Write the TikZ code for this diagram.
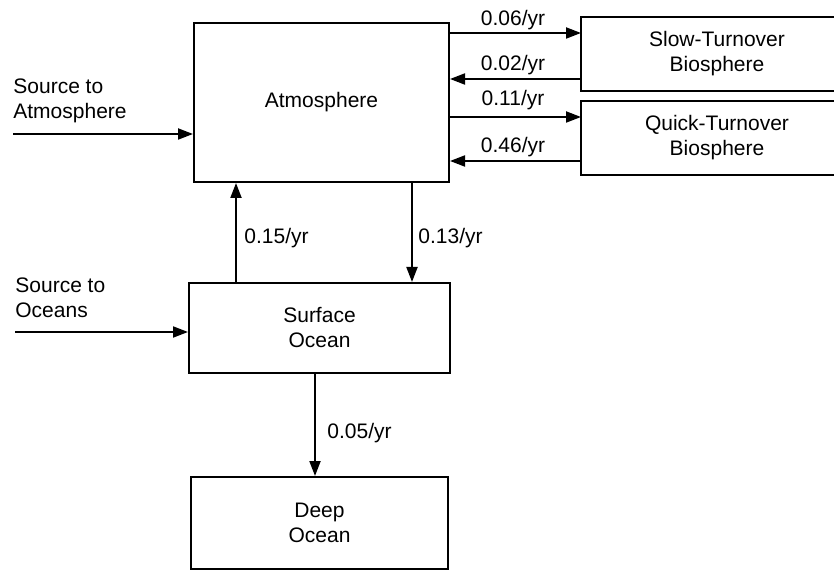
\documentclass[tikz,border=0pt]{standalone}
\usepackage{fontspec}
\setmainfont{Liberation Sans}
\usetikzlibrary{arrows.meta}
\tikzset{
  res/.style={draw,line width=1pt,inner sep=0pt},
  bio/.style={line width=1pt,inner sep=0pt,align=center,minimum width=135pt,minimum height=36pt},
  fl/.style={line width=1pt,-{Triangle[length=7.5pt,width=5.5pt]}},
  rt/.style={font=\fontsize{10.5}{12.5}\selectfont},
  lb/.style={rt,inner sep=0pt}
}
\begin{document}
\begin{tikzpicture}[x=0.5pt,y=-0.5pt]
\useasboundingbox (0,0) rectangle (834,571);
% reservoirs
\node[res,rt,minimum width=127.5pt,minimum height=79.5pt] (atm) at (321.5,102.5) {Atmosphere};
\node[bio,rt] (slow) at (717,54) {Slow-Turnover\\Biosphere};
\node[bio,rt] (quick) at (717,138) {Quick-Turnover\\Biosphere};
\node[res,rt,align=center,minimum width=130.5pt,minimum height=45pt] (surf) at (319.5,328) {Surface\\Ocean};
\node[res,rt,align=center,minimum width=128.5pt,minimum height=46pt] (deep) at (319.5,523) {Deep\\Ocean};
% biosphere boxes run off the right edge
\draw[line width=1pt] ([xshift=20pt]slow.north east) -- (slow.north west) -- (slow.south west) -- ([xshift=20pt]slow.south east);
\draw[line width=1pt] ([xshift=20pt]quick.north east) -- (quick.north west) -- (quick.south west) -- ([xshift=20pt]quick.south east);
% sources
\coordinate (sa) at (13,134); \node[lb,align=left,anchor=west] (sal) at (13,101) {Source to\\Atmosphere};
\coordinate (so) at (15,332); \node[lb,align=left,anchor=west] (sol) at (15,298) {Source to\\Oceans};
\draw[fl] (sa) -- (sa -| atm.west);
\draw[fl] (so) -- (so -| surf.west);
% atmosphere <-> biosphere
\draw[fl] (atm.east |- 0,33) -- (slow.west |- 0,33); \node[lb] (k1) at (513,20) {0.06/yr};
\draw[fl] (slow.west |- 0,79) -- (atm.east |- 0,79); \node[lb] (k2) at (513,65) {0.02/yr};
\draw[fl] (atm.east |- 0,117) -- (quick.west |- 0,117); \node[lb] (k3) at (513,100) {0.11/yr};
\draw[fl] (quick.west |- 0,161) -- (atm.east |- 0,161); \node[lb] (k4) at (513,147) {0.46/yr};
% atmosphere <-> ocean
\draw[fl] (surf.north -| 236,0) -- (atm.south -| 236,0); \node[lb,anchor=west] (k5) at (244,238) {0.15/yr};
\draw[fl] (atm.south -| 412,0) -- (surf.north -| 412,0); \node[lb,anchor=west] (k6) at (418,238) {0.13/yr};
\draw[fl] (surf.south -| 315,0) -- (deep.north -| 315,0); \node[lb,anchor=west] (k7) at (327,433) {0.05/yr};
\end{tikzpicture}
\end{document}
